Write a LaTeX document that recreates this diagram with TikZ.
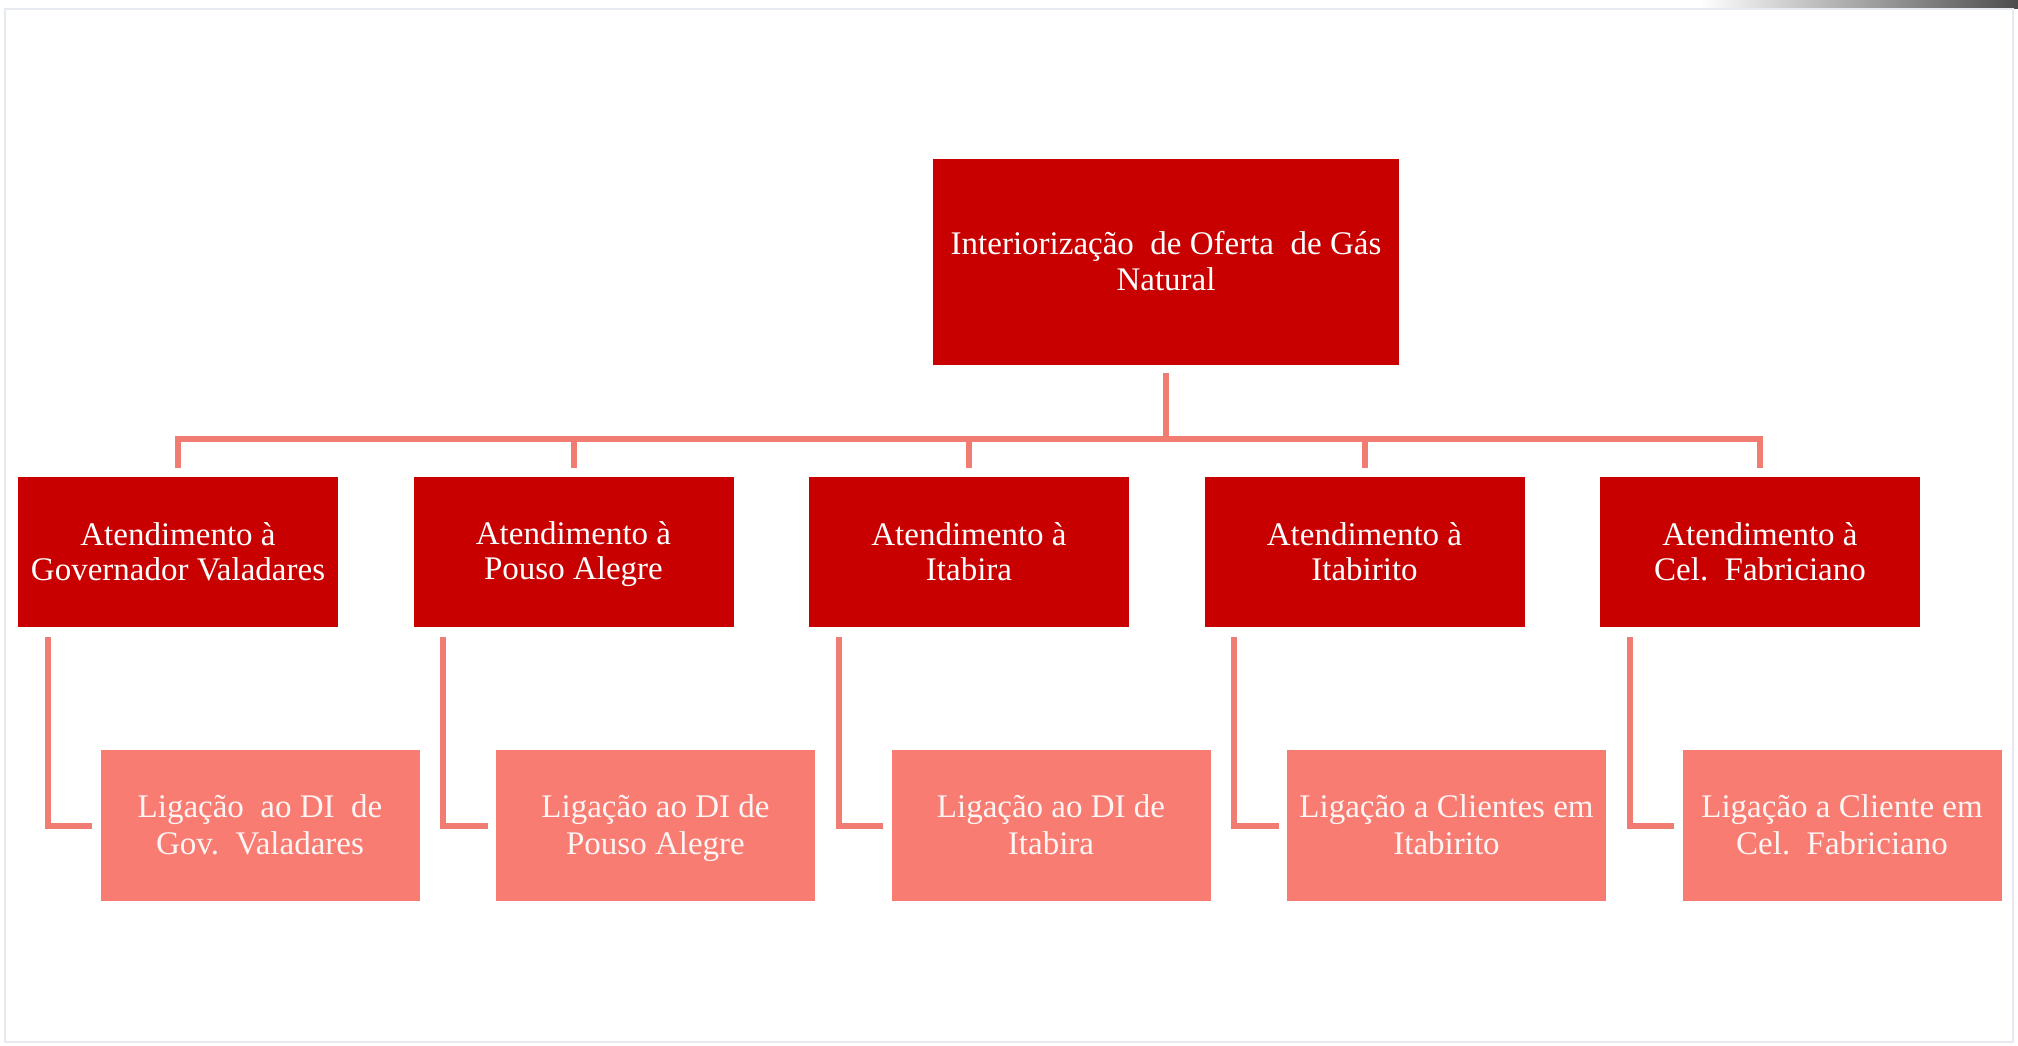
\documentclass[tikz,border=0pt]{standalone}
\usepackage{fontspec}
\setmainfont{Liberation Serif}
\definecolor{darkbox}{RGB}{200,0,0}
\definecolor{lightbox}{RGB}{248,124,114}
\definecolor{connc}{RGB}{240,124,114}
\definecolor{framec}{RGB}{232,234,242}
\newcommand{\sline}{\rule[-7pt]{0pt}{35pt}}
\tikzset{
  base/.style={inner sep=0pt, align=center, text=white,
    font=\fontsize{33}{35}\selectfont},
  topbox/.style={base, fill=darkbox, minimum width=466pt, minimum height=206pt},
  childbox/.style={base, fill=darkbox, minimum width=320pt, minimum height=150pt},
  leafbox/.style={base, fill=lightbox, text=white!92!lightbox, minimum width=319pt, minimum height=151pt},
  conn/.style={draw=connc, line width=6pt, line join=miter, line cap=butt}
}
\begin{document}
\begin{tikzpicture}[x=1pt,y=-1pt]
\useasboundingbox (0,0) rectangle (2018,1045);
\fill[white] (0,0) rectangle (2018,1045);
% slide background remnants
\shade[left color=white, right color=black!70] (1700,0) rectangle (2018,8);
\draw[framec, line width=2pt] (5,9) rectangle (2013,1042);

% nodes
\node[topbox] (top) at (1166,262) {\sline Interiorização\ \ de Oferta\ \ de Gás\\\sline Natural};

\node[childbox] (c1) at (178,552)    {\sline Atendimento à\\\sline Governador Valadares};
\node[childbox] (c2) at (573.5,552)  {\sline Atendimento à\\\sline Pouso Alegre};
\node[childbox] (c3) at (969,552)    {\sline Atendimento à\\\sline Itabira};
\node[childbox] (c4) at (1364.5,552) {\sline Atendimento à\\\sline Itabirito};
\node[childbox] (c5) at (1760,552)   {\sline Atendimento à\\\sline Cel.\ \ Fabriciano};

\node[leafbox] (g1) at (260,825.5)    {\sline Ligação\ \ ao DI\ \ de\\\sline Gov.\ \ Valadares};
\node[leafbox] (g2) at (655.5,825.5)  {\sline Ligação ao DI de\\\sline Pouso Alegre};
\node[leafbox] (g3) at (1051,825.5)   {\sline Ligação ao DI de\\\sline Itabira};
\node[leafbox] (g4) at (1446.5,825.5) {\sline Ligação a Clientes em\\\sline Itabirito};
\node[leafbox] (g5) at (1842,825.5)   {\sline Ligação a Cliente em\\\sline Cel.\ \ Fabriciano};

% bus
\coordinate (bus) at (0,439);
\foreach \c in {c1,c2,c3,c4,c5}{
  \draw[conn] ([yshift=-8pt]top.south) -- (top.south |- bus) -| ([yshift=9pt]\c.north);
}
% child to leaf connectors
\foreach \c/\g in {c1/g1,c2/g2,c3/g3,c4/g4,c5/g5}{
  \draw[conn] ([xshift=30pt,yshift=-10pt]\c.south west) |- ([xshift=-8pt]\g.west);
}
\end{tikzpicture}
\end{document}
